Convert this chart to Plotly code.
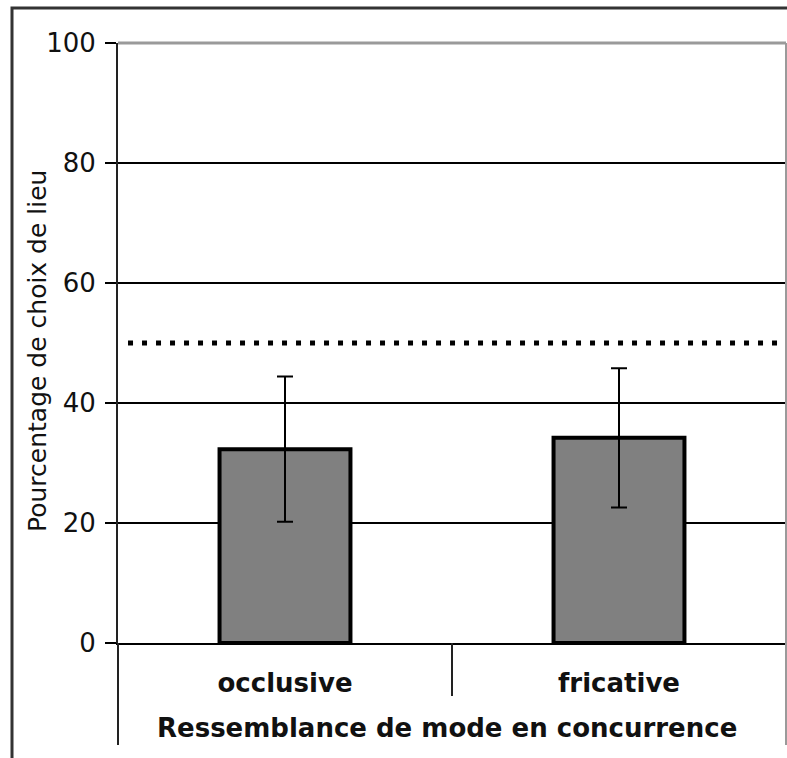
import plotly.graph_objects as go

# Data
categories = ["occlusive", "fricative"]
pct_choice = [32.3, 34.2]
err = [12.1, 11.6]
chance_level = 50
y_ticks = [0, 20, 40, 60, 80, 100]

FONT = "DejaVu Sans"
W, H = 787, 758
L, R, T, B = 118, 1, 43, 115
plot_w = W - L - R
plot_h = H - T - B

x_pos = list(range(len(categories)))

fig = go.Figure()

fig.add_trace(go.Bar(
    x=x_pos,
    y=pct_choice,
    width=0.392,
    marker=dict(color="#808080", line=dict(color="black", width=4)),
    error_y=dict(type="data", array=err, visible=True,
                 color="black", thickness=2, width=8),
    showlegend=False,
    hoverinfo="skip",
))

# chance level reference line
fig.add_trace(go.Scatter(
    x=[-0.47, 1.482],
    y=[chance_level, chance_level],
    mode="lines",
    line=dict(color="black", width=5, dash="5px,9px"),
    showlegend=False,
    hoverinfo="skip",
))

def px_x(p):
    return (p - L) / plot_w

def px_y(p):
    return (H - B - p) / plot_h

shapes = [
    # outer frame
    dict(type="rect", xref="paper", yref="paper",
         x0=px_x(12), x1=1.2, y0=-0.4, y1=px_y(8),
         line=dict(color="#333333", width=3), layer="below"),
    # plot area top/right border
    dict(type="line", xref="paper", yref="paper",
         x0=0, x1=1, y0=1, y1=1,
         line=dict(color="#9a9a9a", width=3), layer="above"),
    dict(type="line", xref="paper", yref="paper",
         x0=px_x(786), x1=px_x(786), y0=px_y(745), y1=1,
         line=dict(color="#9a9a9a", width=2), layer="above"),
    # y-axis line extended under the category labels
    dict(type="line", xref="paper", yref="paper",
         x0=0, x1=0, y0=px_y(745), y1=0,
         line=dict(color="#222222", width=2), layer="above"),
    # separator between categories
    dict(type="line", xref="x", yref="paper",
         x0=0.5, x1=0.5, y0=px_y(696), y1=0,
         line=dict(color="#222222", width=2), layer="above"),
]

annotations = [
    dict(text="Pourcentage de choix de lieu", xref="paper", yref="paper",
         x=px_x(37), y=px_y(351), textangle=-90, showarrow=False,
         xanchor="center", yanchor="middle",
         font=dict(family=FONT, size=25, color="#111111")),
    dict(text="<b>Ressemblance de mode en concurrence</b>", xref="paper", yref="paper",
         x=px_x(447), y=px_y(728), showarrow=False,
         xanchor="center", yanchor="middle",
         font=dict(family=FONT, size=26, color="#111111")),
]

fig.update_layout(
    width=W, height=H,
    margin=dict(l=L, r=R, t=T, b=B, pad=0),
    paper_bgcolor="white",
    plot_bgcolor="white",
    shapes=shapes,
    annotations=annotations,
    bargap=0.6,
    xaxis=dict(
        range=[-0.5, 1.5],
        tickvals=x_pos,
        ticktext=[f"<b>{c}</b>" for c in categories],
        ticks="",
        showgrid=False,
        zeroline=False,
        showline=True, linecolor="black", linewidth=2,
        tickfont=dict(family=FONT, size=26, color="#111111"),
        ticklabelstandoff=16,
        automargin=False,
        fixedrange=True,
    ),
    yaxis=dict(
        range=[0, 100],
        tickvals=y_ticks,
        ticks="outside", ticklen=11, tickwidth=2, tickcolor="black",
        showgrid=True, gridcolor="black", gridwidth=2,
        zeroline=False,
        showline=True, linecolor="#222222", linewidth=2,
        tickfont=dict(family=FONT, size=26, color="#111111"),
        ticklabelstandoff=4,
        automargin=False,
        fixedrange=True,
    ),
)

fig.write_html("out.html")
